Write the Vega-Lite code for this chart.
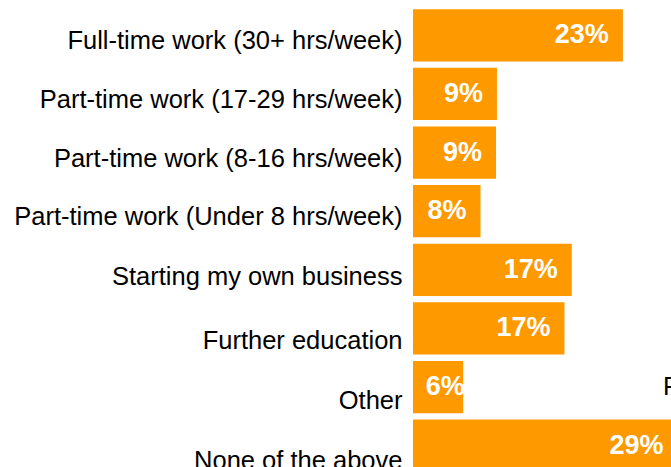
{
  "$schema": "https://vega.github.io/schema/vega-lite/v6.json",
  "autosize": "none",
  "padding": {"left": 413, "top": 6, "right": 0, "bottom": 0},
  "width": 365,
  "height": 469,
  "config": {"view": {"stroke": null}, "font": "Liberation Sans"},
  "data": {"values": [
    {"category": "Full-time work (30+ hrs/week)", "value": 23.0, "label": "23%"},
    {"category": "Part-time work (17-29 hrs/week)", "value": 9.2, "label": "9%"},
    {"category": "Part-time work (8-16 hrs/week)", "value": 9.1, "label": "9%"},
    {"category": "Part-time work (Under 8 hrs/week)", "value": 7.4, "label": "8%"},
    {"category": "Starting my own business", "value": 17.4, "label": "17%"},
    {"category": "Further education", "value": 16.6, "label": "17%"},
    {"category": "Other", "value": 5.5, "label": "6%"},
    {"category": "None of the above", "value": 29.0, "label": "29%"}
  ]},
  "encoding": {
    "y": {"field": "category", "type": "nominal", "sort": null,
      "scale": {"paddingInner": 0.11, "paddingOuter": 0.055},
      "axis": {"title": null, "ticks": false, "domain": false, "labelPadding": 11, "labelFontSize": 25.5, "labelColor": "#000000", "labelLimit": 0,
        "labelOffset": {"condition": [
          {"test": "datum.value === 'Starting my own business'", "value": 7.5},
          {"test": "datum.value === 'Further education'", "value": 13},
          {"test": "datum.value === 'Other'", "value": 13.5},
          {"test": "datum.value === 'None of the above'", "value": 15}
        ], "value": 6}}},
    "x": {"field": "value", "type": "quantitative", "scale": {"domain": [0, 40]}, "axis": null}
  },
  "layer": [
    {"mark": {"type": "bar", "color": "#FF9900"}},
    {"transform": [{"calculate": "max(datum.value, 7.2)", "as": "labelX"}],
     "mark": {"type": "text", "align": "right", "baseline": "middle", "dx": -14, "fontSize": 27, "fontWeight": "bold", "color": "#FFFFFF"},
     "encoding": {"x": {"field": "labelX", "type": "quantitative"}, "text": {"field": "label"}}},
    {"data": {"values": [{"category": "Other", "value": 27.4, "note": "F"}]},
     "mark": {"type": "text", "align": "left", "baseline": "middle", "dy": 0, "fontSize": 25.5, "color": "#000000"},
     "encoding": {"text": {"field": "note"}}}
  ]
}
